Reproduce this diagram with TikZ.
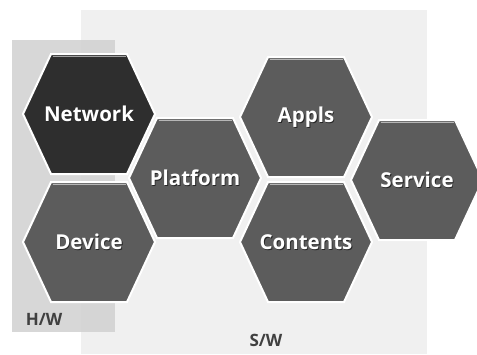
\documentclass[tikz,border=0pt]{standalone}
\usepackage{fontspec}
\setmainfont{Open Sans}
\begin{document}
\begin{tikzpicture}[x=1pt,y=-1pt,
  hexfill/.style={fill=#1, draw=white, line width=2pt, line join=miter},
  hexlabel/.style={text=white, font=\bfseries\fontsize{20.5}{20.5}\selectfont, inner sep=0pt},
  hexshadow/.style={text=black!85, font=\bfseries\fontsize{20.5}{20.5}\selectfont, inner sep=0pt},
  arealabel/.style={text=black!75, font=\bfseries\fontsize{17}{17}\selectfont, inner sep=0pt}]
\useasboundingbox (0,0) rectangle (477,354);
\fill[white] (0,0) rectangle (477,354);
% software area
\fill[black!6] (81,10) rectangle (427,354);
% hardware area, translucent over the software area
\fill[black!18, opacity=0.85] (12,40) rectangle (115,332);
% one flat-topped hexagon per building block
\newcommand\hexcell[4]{%
  \path[hexfill=#3] (#1-66,#2) -- (#1-38,#2-60) -- (#1+38,#2-60) -- (#1+66,#2)
    -- (#1+38,#2+60) -- (#1-38,#2+60) -- cycle;
  \draw[white!55!#3, line width=1.2pt] (#1-36.5,#2-57.5) -- (#1+36.5,#2-57.5);
  \node[hexshadow] at (#1+0.9,#2+0.9) {#4};
  \node[hexlabel] (#4) at (#1,#2) {#4};}
\begin{scope}
\clip (0,0) rectangle (477,354);
\hexcell{89}{114}{black!82}{Network}
\hexcell{89}{242}{black!64}{Device}
\hexcell{195}{178}{black!64}{Platform}
\hexcell{306}{117}{black!64}{Appls}
\hexcell{306}{242}{black!64}{Contents}
\hexcell{417}{180}{black!64}{Service}
\end{scope}
\node[arealabel] (hw) at (44,319) {H/W};
\node[arealabel] (sw) at (266,340) {S/W};
\end{tikzpicture}
\end{document}
